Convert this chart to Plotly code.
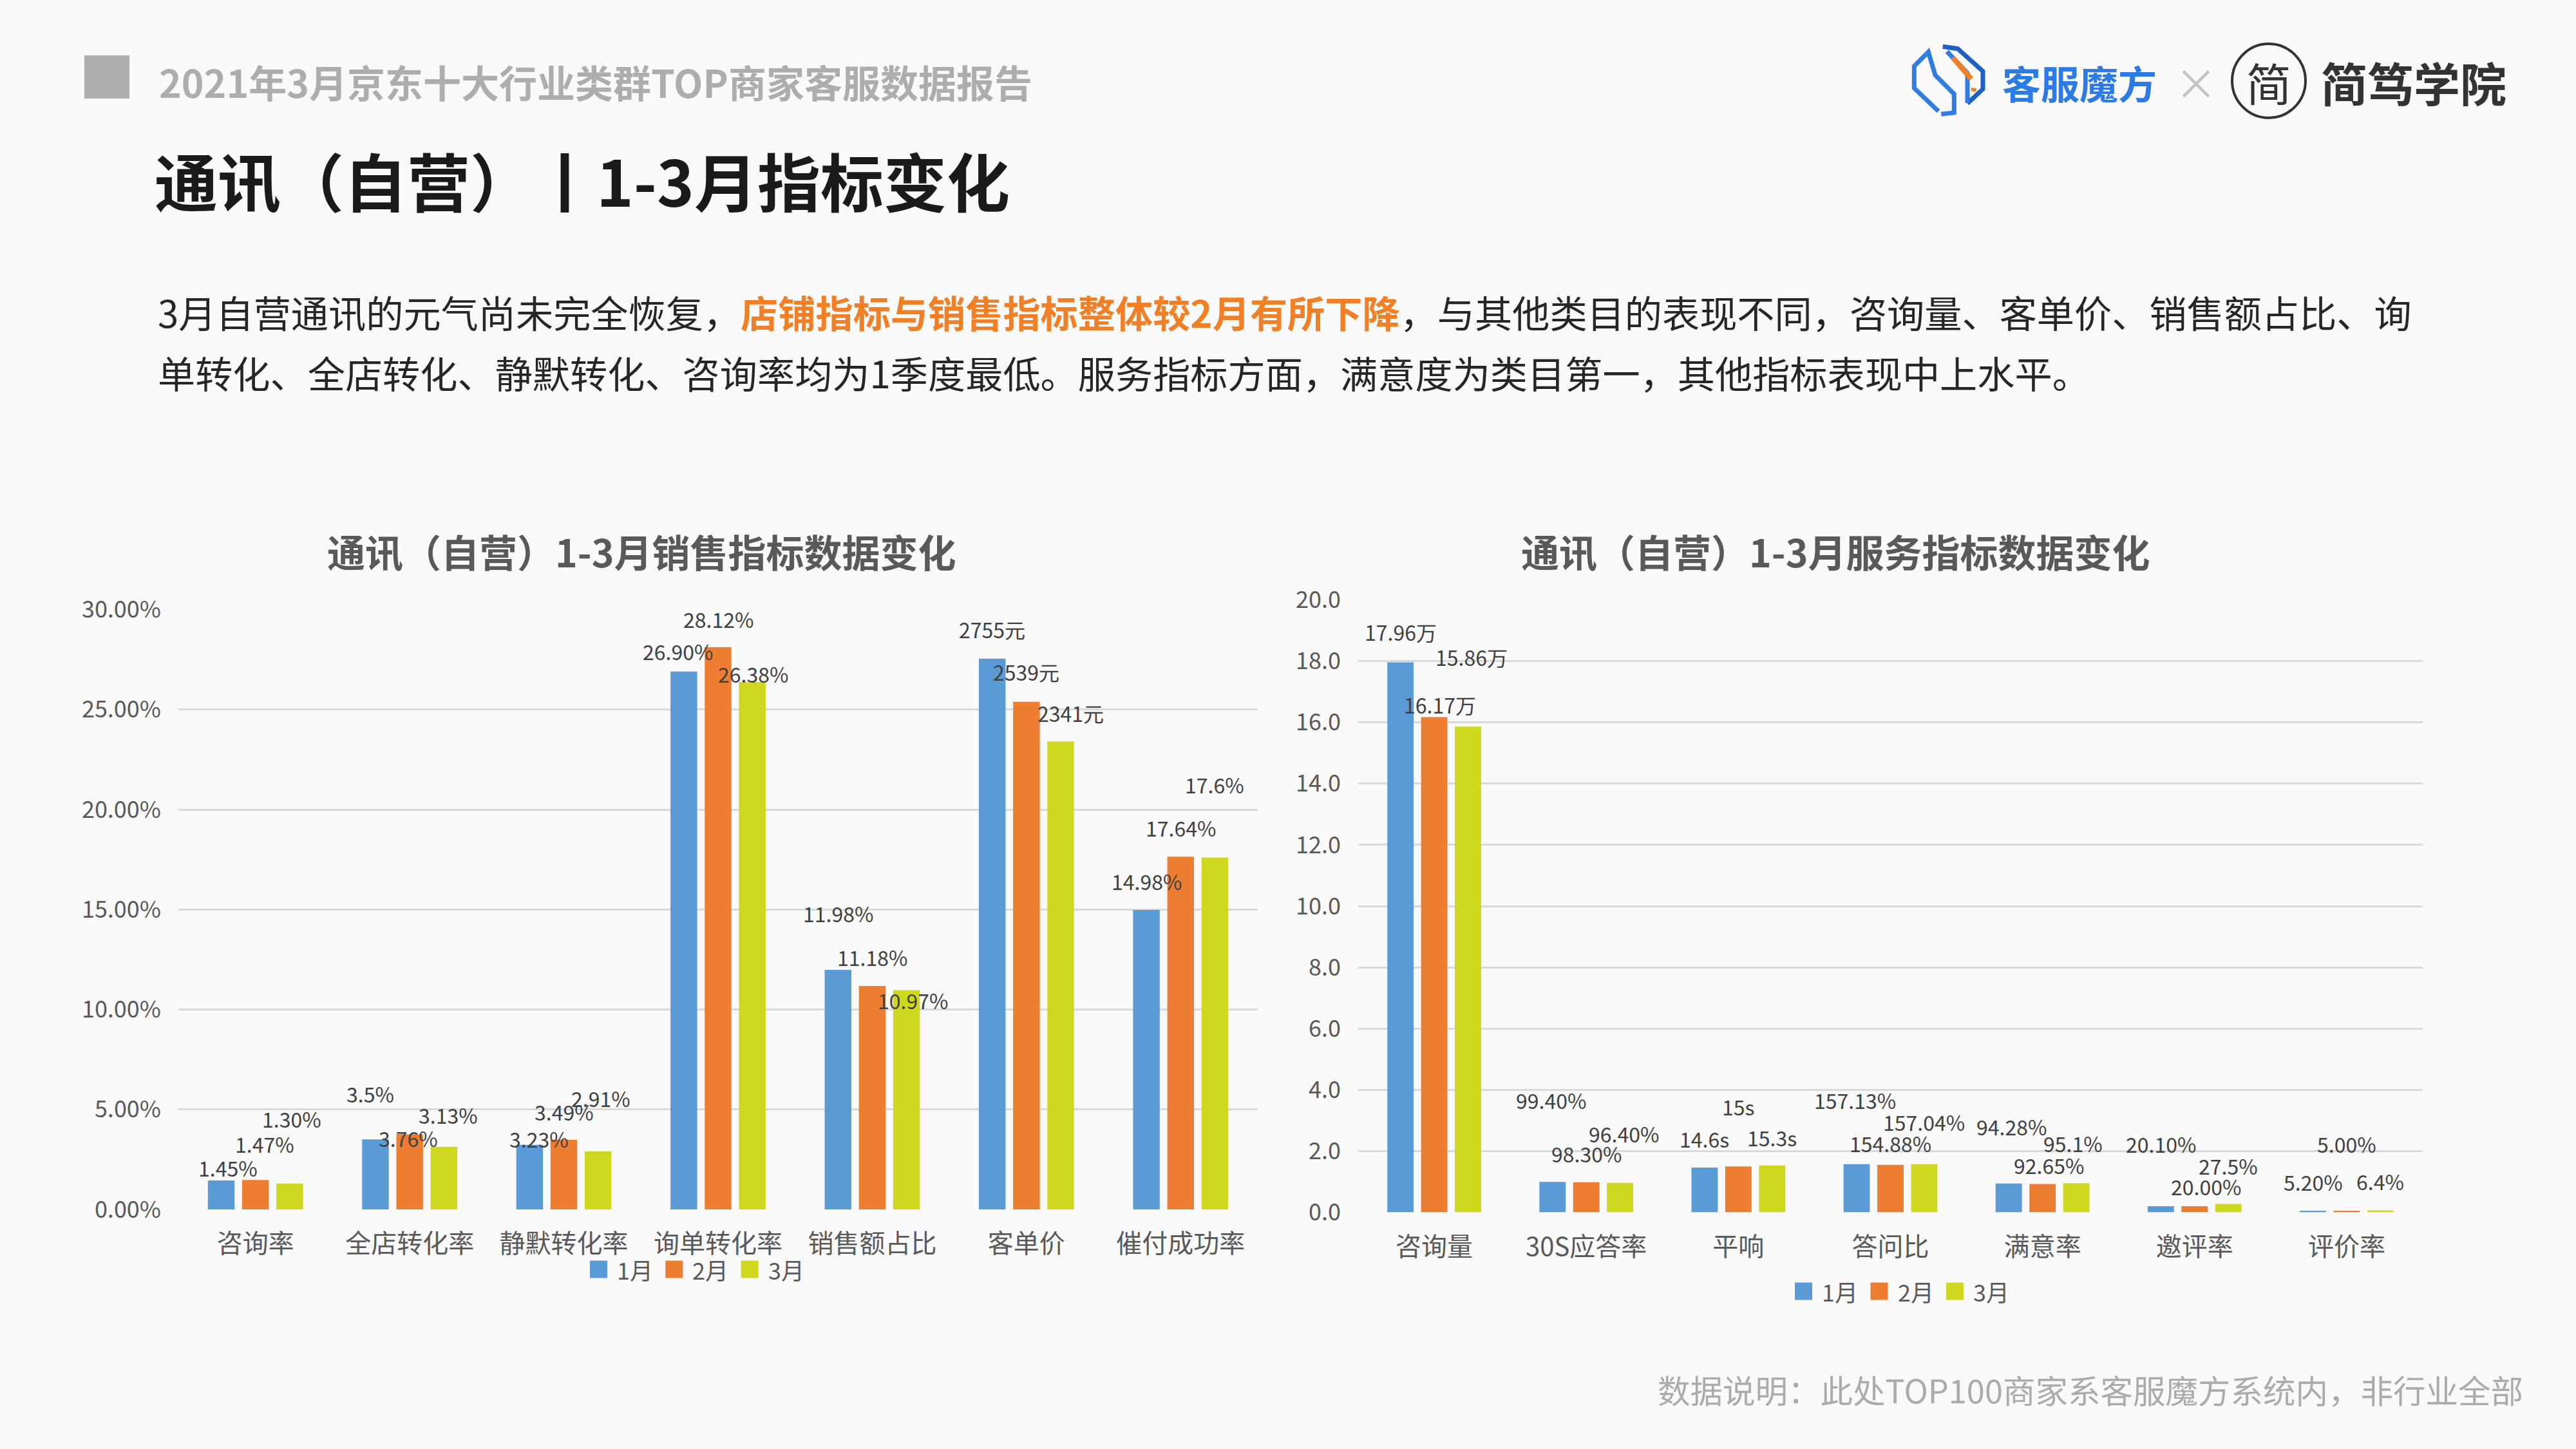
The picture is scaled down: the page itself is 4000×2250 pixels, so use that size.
import plotly.graph_objects as go

W, H = 4000, 2250
FONT = "Noto Sans CJK SC"

# ---------------- data ----------------
MONTHS = ["1月", "2月", "3月"]

SALES_CATS = ["咨询率", "全店转化率", "静默转化率", "询单转化率", "销售额占比", "客单价", "催付成功率"]
SALES_JAN = [1.45, 3.50, 3.23, 26.90, 11.98, 27.55, 14.98]
SALES_FEB = [1.47, 3.76, 3.49, 28.12, 11.18, 25.39, 17.64]
SALES_MAR = [1.30, 3.13, 2.91, 26.38, 10.97, 23.41, 17.60]
SALES_LBL_JAN = ["1.45%", "3.5%", "3.23%", "26.90%", "11.98%", "2755元", "14.98%"]
SALES_LBL_FEB = ["1.47%", "3.76%", "3.49%", "28.12%", "11.18%", "2539元", "17.64%"]
SALES_LBL_MAR = ["1.30%", "3.13%", "2.91%", "26.38%", "10.97%", "2341元", "17.6%"]

SERV_CATS = ["咨询量", "30S应答率", "平响", "答问比", "满意率", "邀评率", "评价率"]
SERV_JAN = [17.96, 0.994, 1.46, 1.5713, 0.9428, 0.201, 0.052]
SERV_FEB = [16.17, 0.983, 1.50, 1.5488, 0.9265, 0.200, 0.050]
SERV_MAR = [15.86, 0.964, 1.53, 1.5704, 0.951, 0.275, 0.064]
SERV_LBL_JAN = ["17.96万", "99.40%", "14.6s", "157.13%", "94.28%", "20.10%", "5.20%"]
SERV_LBL_FEB = ["16.17万", "98.30%", "15s", "154.88%", "92.65%", "20.00%", "5.00%"]
SERV_LBL_MAR = ["15.86万", "96.40%", "15.3s", "157.04%", "95.1%", "27.5%", "6.4%"]

# ---------------- styles ----------------
COLORS = ["#5B9BD5", "#ED7D31", "#CFD81E"]
BG = "#F9F9F9"
GRID = "#D9D9D9"
AXIS_TXT = "#595959"
LBL_TXT = "#404040"
BARGAP, BARGROUPGAP = 0.334, 0.22

# label nudges (pixels) reproducing the manual placement of the original
SALES_DX = [[10, -8, 15, -9, 0, 0, 0], [14, -2, 0, 0, 0, 0, 0], [3, 7, 4, 1, 10, 15, 0]]
SALES_DY = [[20, 71, 10, 32, 88, 46, 45], [56, -6, 44, 44, 45, 47, 45], [101, 50, 83, 13, -16, 44, 114]]
SERV_DX = [[0, -2, 0, -3, 4, 0, 0], [9, 0, 0, 0, 10, 18, 0], [6, 6, 0, 0, -5, 0, 0]]
SERV_DY = [[47, 127, 45, 100, 89, 97, 45], [20, 45, 93, 34, 29, 31, 104], [108, 77, 44, 66, 62, 59, 45]]

# plot areas in pixels
L_X0, L_X1, L_Y0, L_Y1 = 277, 1953, 946.6, 1878
R_X0, R_X1, R_Y0, R_Y1 = 2109, 3762, 931.5, 1882.5
# legend key positions (left edge of first key, vertical centre, step)
LEG_L = (916, 1971, 117.3)
LEG_R = (2787, 2005, 117.5)
KEY = 27


def px(x):
    return x / W


def py(y):
    return 1 - y / H


fig = go.Figure()

sales_series = [SALES_JAN, SALES_FEB, SALES_MAR]
sales_labels = [SALES_LBL_JAN, SALES_LBL_FEB, SALES_LBL_MAR]
serv_series = [SERV_JAN, SERV_FEB, SERV_MAR]
serv_labels = [SERV_LBL_JAN, SERV_LBL_FEB, SERV_LBL_MAR]

for i, m in enumerate(MONTHS):
    fig.add_trace(go.Bar(x=SALES_CATS, y=sales_series[i], name=m, marker_color=COLORS[i],
                         marker_line_width=0, xaxis="x", yaxis="y", showlegend=False,
                         offsetgroup=str(i)))
for i, m in enumerate(MONTHS):
    fig.add_trace(go.Bar(x=SERV_CATS, y=serv_series[i], name=m, marker_color=COLORS[i],
                         marker_line_width=0, xaxis="x2", yaxis="y2", showlegend=False,
                         offsetgroup=str(i)))

annotations = []
shapes = []


def add_labels(cats, series, labels, dxs, dys, xref, yref, x0, x1):
    cat_px = (x1 - x0) / len(cats)
    slot = cat_px * (1 - BARGAP) / 3
    for i in range(3):
        for j, c in enumerate(cats):
            annotations.append(dict(
                x=c, y=series[i][j], xref=xref, yref=yref, text=labels[i][j],
                showarrow=False, xanchor="center", yanchor="middle",
                xshift=(i - 1) * slot + dxs[i][j], yshift=dys[i][j],
                font=dict(family=FONT, size=32, color=LBL_TXT)))


add_labels(SALES_CATS, sales_series, sales_labels, SALES_DX, SALES_DY, "x", "y", L_X0, L_X1)
add_labels(SERV_CATS, serv_series, serv_labels, SERV_DX, SERV_DY, "x2", "y2", R_X0, R_X1)


def text(x, y, t, size, color, xanchor="left", bold=False):
    annotations.append(dict(
        x=px(x), y=py(y), xref="paper", yref="paper", text=f"<b>{t}</b>" if bold else t,
        showarrow=False, xanchor=xanchor, yanchor="middle",
        font=dict(family=FONT, size=size, color=color)))


def legend(pos):
    x0, yc, step = pos
    for i, m in enumerate(MONTHS):
        kx = x0 + i * step
        shapes.append(dict(type="rect", xref="paper", yref="paper",
                           x0=px(kx), x1=px(kx + KEY), y0=py(yc + KEY / 2), y1=py(yc - KEY / 2),
                           fillcolor=COLORS[i], line_width=0))
        text(kx + KEY + 13, yc, m, 36, AXIS_TXT)


legend(LEG_L)
legend(LEG_R)

# header
text(245, 126, "2021年3月京东十大行业类群TOP商家客服数据报告", 59, "#ADADAD", bold=True)
text(238, 278, "通讯（自营）丨1-3月指标变化", 98, "#1A1A1A", bold=True)
text(243, 483,
     "3月自营通讯的元气尚未完全恢复，<span style='color:#F07F25'><b>店铺指标与销售指标整体较2月有所下降</b></span>，"
     "与其他类目的表现不同，咨询量、客单价、销售额占比、询", 58.2, "#262626")
text(243, 577, "单转化、全店转化、静默转化、咨询率均为1季度最低。服务指标方面，满意度为类目第一，其他指标表现中上水平。",
     58.2, "#262626")

# chart titles
text(996, 856, "通讯（自营）1-3月销售指标数据变化", 59, AXIS_TXT, xanchor="center", bold=True)
text(2850, 856, "通讯（自营）1-3月服务指标数据变化", 59, AXIS_TXT, xanchor="center", bold=True)

# footer
text(3920, 2157, "数据说明：此处TOP100商家系客服魔方系统内，非行业全部", 50.5, "#ABABAB", xanchor="right")

# logos
text(3107, 128, "客服魔方", 60, "#2C7BE5", bold=True)
text(3410, 126, "×", 66, "#C4C4C4", xanchor="center")
text(3523, 128, "简", 70, "#333333", xanchor="center")
text(3602, 127, "简笃学院", 72, "#333333", bold=True)

shapes += [
    dict(type="rect", xref="paper", yref="paper", x0=px(131), x1=px(201), y0=py(153), y1=py(86),
         fillcolor="#ADADAD", line_width=0),
    dict(type="circle", xref="paper", yref="paper", x0=px(3466), x1=px(3580), y0=py(183), y1=py(68),
         line=dict(color="#333333", width=4), fillcolor="rgba(0,0,0,0)"),
]


# stylised logo icon (decoration), points given in a 420x405 local grid
def icon_path(points, color, width):
    pts = [(px(2955 + zx / 3), py(60 + zy / 3)) for zx, zy in points]
    d = "M " + " L ".join(f"{a:.5f},{b:.5f}" for a, b in pts)
    shapes.append(dict(type="path", xref="paper", yref="paper", path=d,
                       line=dict(color=color, width=width), fillcolor="rgba(0,0,0,0)"))


icon_path([(165, 338), (52, 230), (52, 128), (118, 62), (150, 170), (238, 258), (238, 345), (178, 352)],
          "#2F7DE1", 7)
icon_path([(185, 37), (255, 47), (372, 152), (372, 235), (300, 302)], "#1E5FC8", 7)
icon_path([(205, 60), (300, 160), (300, 300)], "#2F7DE1", 7)
icon_path([(232, 88), (318, 188)], "#F07F25", 8)
icon_path([(331, 230), (328, 246)], "#F07F25", 8)

axis_common = dict(showline=False, zeroline=False, ticks="", fixedrange=True, automargin=False)

fig.update_layout(
    width=W, height=H, margin=dict(l=0, r=0, t=0, b=0, pad=0, autoexpand=False),
    paper_bgcolor=BG, plot_bgcolor=BG,
    barmode="group", bargap=BARGAP, bargroupgap=BARGROUPGAP,
    font=dict(family=FONT, color=AXIS_TXT),
    xaxis=dict(domain=[px(L_X0), px(L_X1)], anchor="y", showgrid=False,
               tickfont=dict(size=40, color=AXIS_TXT), ticklabelstandoff=26, **axis_common),
    yaxis=dict(domain=[py(L_Y1), py(L_Y0)], anchor="x", range=[0, 30], dtick=5,
               tickformat=".2f", ticksuffix="%", showgrid=True, gridcolor=GRID, gridwidth=3,
               tickfont=dict(size=36, color=AXIS_TXT), ticklabelstandoff=26, **axis_common),
    xaxis2=dict(domain=[px(R_X0), px(R_X1)], anchor="y2", showgrid=False,
                tickfont=dict(size=40, color=AXIS_TXT), ticklabelstandoff=26, **axis_common),
    yaxis2=dict(domain=[py(R_Y1), py(R_Y0)], anchor="x2", range=[0, 20], dtick=2,
                tickformat=".1f", showgrid=True, gridcolor=GRID, gridwidth=3,
                tickfont=dict(size=36, color=AXIS_TXT), ticklabelstandoff=26, **axis_common),
    annotations=annotations,
    shapes=shapes,
    showlegend=False,
)

fig.write_html("out.html", config={"displayModeBar": False},
               post_script="document.body.style.margin='0';document.body.style.overflow='hidden';")
